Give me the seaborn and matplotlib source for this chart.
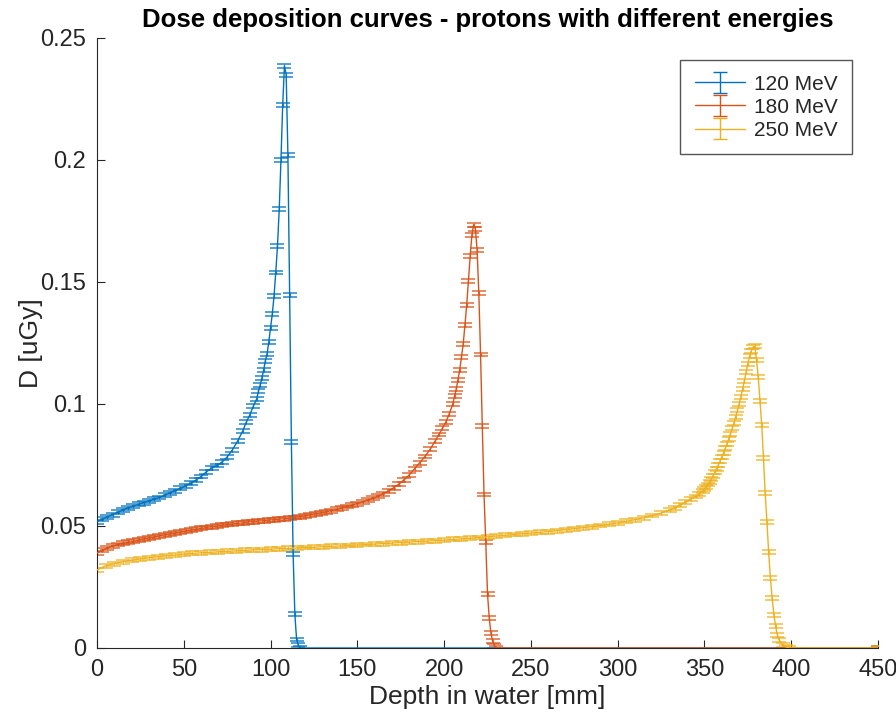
import numpy as np
import pandas as pd
import matplotlib
matplotlib.use("Agg")
import matplotlib.pyplot as plt
import seaborn as sns

# ---------------- data ----------------
energies = ["120 MeV", "180 MeV", "250 MeV"]
colors = ["#0072BD", "#D95319", "#EDB120"]

depth_120 = [0, 3, 6, 9, 12, 15, 18, 21, 24, 27, 30, 33, 36, 39, 42, 45, 48, 51, 54, 57,
             60, 63, 66, 69, 72, 75, 78, 81, 84, 86, 88, 90, 92, 93, 94, 95, 96, 97, 98, 99,
             100, 101, 102, 103, 104, 105, 106, 107, 108, 109, 110, 111, 112, 113, 114, 115,
             116, 117, 450]
dose_120 = [.0518, .0528, .0537, .0546, .0556, .0566, .0574, .0582, .0589, .0596, .0603,
            .0610, .0617, .0626, .0636, .0645, .0654, .0664, .0675, .0688, .0703, .0722,
            .0737, .0748, .0762, .0783, .0812, .0848, .0890, .0925, .0955, .0990, .1020,
            .1052, .1077, .1106, .1138, .1177, .1206, .1255, .1312, .1369, .1442, .1539,
            .1649, .1798, .2001, .2227, .2385, .2350, .2020, .1445, .0845, .0385, .0138,
            .0035, .0011, 0.0, 0.0]

depth_180 = [0, 3, 6, 9, 12, 15, 18, 21, 24, 27, 30, 33, 36, 39, 42, 45, 48, 51, 54, 57,
             60, 63, 66, 69, 72, 75, 78, 81, 84, 87, 90, 93, 96, 99, 102, 105, 108, 111, 114,
             117, 120, 123, 126, 129, 132, 135, 138, 141, 144, 147, 150, 153, 156, 159, 162,
             165, 168, 171, 174, 177, 180, 183, 186, 189, 192, 195, 197, 199, 201, 203, 205,
             206, 207, 208, 209, 210, 211, 212, 213, 214, 215, 216, 217, 218, 219, 220, 221,
             222, 223, 224, 225, 226, 227, 228, 229, 230, 450]
dose_180 = [.0390, .0400, .0410, .0418, .0424, .0429, .0433, .0437, .0442, .0447, .0451,
            .0455, .0460, .0464, .0468, .0471, .0475, .0479, .0483, .0486, .0490, .0494,
            .0497, .0500, .0503, .0506, .0508, .0511, .0513, .0516, .0518, .0520, .0522,
            .0524, .0526, .0528, .0530, .0532, .0535, .0538, .0542, .0546, .0550, .0554,
            .0558, .0563, .0568, .0574, .0580, .0586, .0592, .0599, .0606, .0613, .0622,
            .0632, .0643, .0657, .0672, .0690, .0710, .0735, .0760, .0785, .0815, .0850,
            .0875, .0900, .0926, .0960, .1000, .1032, .1062, .1100, .1141, .1192, .1246,
            .1323, .1405, .1503, .1605, .1692, .1735, .1718, .1633, .1455, .1203, .0909,
            .0629, .0435, .0222, .0123, .0060, .0027, .0009, 0.0, 0.0]

depth_250 = [0, 5, 10, 15, 20, 25, 30, 35, 40, 45, 50, 55, 60, 65, 70, 75, 80, 85, 90, 95,
             100, 105, 110, 115, 120, 125, 130, 135, 140, 145, 150, 155, 160, 165, 170, 175,
             180, 185, 190, 195, 200, 205, 210, 215, 220, 225, 230, 235, 240, 245, 250, 255,
             260, 265, 270, 275, 280, 285, 290, 295, 300, 305, 310, 315, 320, 325, 330, 333,
             336, 339, 342, 345, 347, 349, 350, 351, 352, 353, 354, 355, 356, 357, 358, 359,
             360, 361, 362, 363, 364, 365, 366, 367, 368, 369, 370, 371, 372, 373, 374, 375,
             376, 377, 378, 379, 380, 381, 382, 383, 384, 385, 386, 387, 388, 389, 390, 391,
             392, 393, 395, 397, 399, 450]
dose_250 = [.0320, .0337, .0346, .0354, .0360, .0365, .0370, .0374, .0378, .0381, .0385,
            .0388, .0390, .0392, .0394, .0396, .0398, .0400, .0402, .0403, .0405, .0407,
            .0408, .0410, .0412, .0413, .0415, .0417, .0418, .0420, .0422, .0424, .0426,
            .0428, .0430, .0432, .0434, .0436, .0438, .0440, .0442, .0445, .0447, .0450,
            .0453, .0456, .0459, .0462, .0465, .0468, .0471, .0474, .0477, .0481, .0485,
            .0489, .0493, .0497, .0502, .0507, .0513, .0519, .0526, .0534, .0543, .0553,
            .0566, .0575, .0586, .0597, .0609, .0621, .0632, .0643, .0650, .0660, .0670,
            .0682, .0694, .0706, .0720, .0735, .0750, .0766, .0783, .0800, .0818, .0837,
            .0857, .0878, .0900, .0923, .0948, .0974, .1000, .1030, .1062, .1095, .1130,
            .1165, .1195, .1218, .1232, .1236, .1180, .1110, .1014, .0914, .0780, .0634,
            .0518, .0392, .0288, .0206, .0135, .0090, .0053, .0033, .0012, .0004, 0.0, 0.0]

# statistical uncertainty (half-width of error bars)
err_120 = 0.0008
err_180 = 0.0008
err_250 = 0.0008

x_ticks = [0, 50, 100, 150, 200, 250, 300, 350, 400, 450]
y_ticks = [0, 0.05, 0.1, 0.15, 0.2, 0.25]
y_ticklabels = ["0", "0.05", "0.1", "0.15", "0.2", "0.25"]

# ---------------- build tidy table ----------------
series = [(energies[0], depth_120, dose_120, err_120),
          (energies[1], depth_180, dose_180, err_180),
          (energies[2], depth_250, dose_250, err_250)]
df = pd.concat([pd.DataFrame({"depth": d, "dose": v, "energy": e})
                for e, d, v, _ in series], ignore_index=True)

# ---------------- style ----------------
sns.set_theme(style="ticks")
plt.rcParams["font.family"] = ["Liberation Sans", "DejaVu Sans"]
txt = "#262626"

fig = plt.figure(figsize=(8.96, 7.23), dpi=100)
ax = fig.add_axes([97 / 896, 1 - 648 / 723, 781 / 896, 610 / 723])

palette = dict(zip(energies, colors))
sns.lineplot(data=df, x="depth", y="dose", hue="energy", palette=palette,
             estimator=None, sort=False, linewidth=1.0, legend=False, ax=ax, zorder=3)

for (e, d, v, err), c in zip(series, colors):
    ax.errorbar(d, v, yerr=err, fmt="none", ecolor=c, elinewidth=0.9,
                capsize=5, capthick=1.1, alpha=0.85, zorder=2)

# legend proxies (errorbar style)
handles = []
for e, c in zip(energies, colors):
    h = ax.errorbar([np.nan], [np.nan], yerr=[0.01], fmt="-", color=c, lw=1.0,
                    elinewidth=1.0, capsize=5, capthick=1.0, label=e)
    handles.append(h)
leg = ax.legend(handles=handles, labels=energies, loc="upper right",
                bbox_to_anchor=(0.967, 0.964), borderaxespad=0, fontsize=15,
                frameon=True, fancybox=False, framealpha=1, edgecolor="#555555",
                handlelength=2.4, handletextpad=0.45, borderpad=0.7, labelspacing=0.2)
leg.get_frame().set_linewidth(1.0)
for t in leg.get_texts():
    t.set_color(txt)

ax.set_xlim(0, 450)
ax.set_ylim(0, 0.25)
ax.set_xticks(x_ticks)
ax.set_yticks(y_ticks)
ax.set_yticklabels(y_ticklabels)
ax.tick_params(direction="in", length=6, width=0.8, colors=txt, labelsize=17, pad=8)
for s in ["top", "right"]:
    ax.spines[s].set_visible(False)
for s in ["left", "bottom"]:
    ax.spines[s].set_color(txt)
    ax.spines[s].set_linewidth(0.8)

ax.set_xlabel("Depth in water [mm]", fontsize=19, color=txt, labelpad=3)
ax.set_ylabel("D [uGy]", fontsize=19, color=txt)
ax.yaxis.set_label_coords(-0.069, 0.5)
ax.set_title("Dose deposition curves - protons with different energies",
             fontsize=18.5, fontweight="bold", color="black", pad=8)

fig.savefig("out.png", dpi=100)
